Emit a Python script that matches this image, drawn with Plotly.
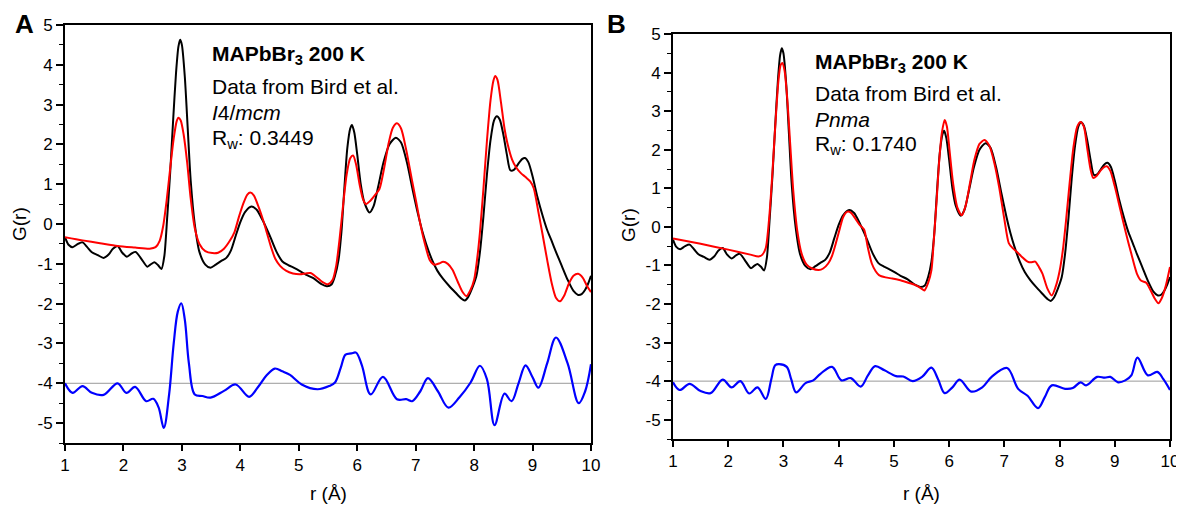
import plotly.graph_objects as go

# ---------------- data ----------------
# observed G(r) (same data in both panels)
obs_r = [1.00, 1.06, 1.13, 1.22, 1.30, 1.38, 1.46, 1.56, 1.66, 1.75, 1.82, 1.90, 1.98, 2.06, 2.14, 2.21,
         2.30, 2.41, 2.47, 2.53, 2.59, 2.65, 2.70, 2.75, 2.80, 2.85, 2.90, 2.94, 2.97, 3.00, 3.05, 3.10,
         3.15, 3.22, 3.30, 3.40, 3.49, 3.58, 3.68, 3.76, 3.84, 3.92, 4.00, 4.08, 4.19, 4.28, 4.38, 4.46,
         4.52, 4.62, 4.72, 4.82, 4.92, 5.02, 5.12, 5.25, 5.38, 5.48, 5.56, 5.62, 5.68, 5.73, 5.78, 5.83,
         5.88, 5.91, 5.95, 6.00, 6.06, 6.12, 6.21, 6.28, 6.36, 6.45, 6.55, 6.66, 6.75, 6.85, 6.95, 7.04,
         7.11, 7.18, 7.28, 7.37, 7.47, 7.57, 7.68, 7.78, 7.84, 7.90, 7.97, 8.04, 8.10, 8.16, 8.22, 8.28,
         8.34, 8.39, 8.44, 8.50, 8.56, 8.62, 8.68, 8.75, 8.82, 8.87, 8.93, 9.00, 9.08, 9.17, 9.25, 9.32,
         9.40, 9.50, 9.60, 9.70, 9.78, 9.84, 9.90, 9.95, 10.00]
obs_g = [-0.33, -0.52, -0.58, -0.50, -0.46, -0.58, -0.71, -0.78, -0.85, -0.76, -0.62, -0.55, -0.72, -0.82, -0.74, -0.70,
         -0.86, -1.07, -1.01, -0.96, -1.03, -1.13, -0.80, 0.20, 1.30, 2.60, 3.80, 4.45, 4.63, 4.50, 3.70, 2.40,
         1.10, 0.00, -0.70, -1.02, -1.10, -1.02, -0.92, -0.85, -0.66, -0.30, 0.05, 0.30, 0.44, 0.36, 0.10, -0.15,
         -0.35, -0.70, -0.94, -1.03, -1.10, -1.18, -1.27, -1.36, -1.50, -1.56, -1.52, -1.30, -0.90, -0.20, 0.90, 1.90,
         2.40, 2.49, 2.30, 1.75, 1.00, 0.55, 0.29, 0.45, 0.95, 1.55, 2.00, 2.17, 2.05, 1.55, 0.85, 0.25,
         -0.16, -0.50, -0.90, -1.17, -1.38, -1.55, -1.72, -1.87, -1.92, -1.83, -1.60, -1.30, -0.70, 0.20, 1.25, 2.10,
         2.60, 2.71, 2.62, 2.25, 1.75, 1.35, 1.36, 1.50, 1.63, 1.66, 1.55, 1.20, 0.70, 0.22, -0.15, -0.40,
         -0.70, -1.05, -1.40, -1.68, -1.78, -1.76, -1.65, -1.50, -1.30]

# calculated G(r), I4/mcm model (panel A)
calcA_r = [1.00, 1.30, 1.60, 1.90, 2.20, 2.45, 2.55, 2.62, 2.68, 2.74, 2.80, 2.86, 2.91, 2.94, 2.98, 3.03,
           3.09, 3.15, 3.22, 3.30, 3.40, 3.52, 3.62, 3.72, 3.82, 3.90, 3.98, 4.06, 4.12, 4.17, 4.23, 4.32,
           4.40, 4.46, 4.53, 4.60, 4.68, 4.78, 4.90, 5.02, 5.12, 5.20, 5.30, 5.40, 5.50, 5.58, 5.64, 5.70,
           5.76, 5.82, 5.88, 5.93, 5.98, 6.04, 6.10, 6.15, 6.22, 6.30, 6.38, 6.46, 6.54, 6.61, 6.68, 6.75,
           6.84, 6.93, 7.01, 7.08, 7.15, 7.24, 7.32, 7.40, 7.47, 7.55, 7.63, 7.72, 7.80, 7.87, 7.94, 8.00,
           8.05, 8.10, 8.16, 8.22, 8.28, 8.33, 8.36, 8.40, 8.46, 8.52, 8.57, 8.65, 8.72, 8.80, 8.88, 8.96,
           9.02, 9.10, 9.17, 9.25, 9.33, 9.40, 9.47, 9.54, 9.62, 9.70, 9.78, 9.86, 9.93, 10.00]
calcA_g = [-0.33, -0.41, -0.48, -0.55, -0.59, -0.62, -0.58, -0.42, -0.05, 0.60, 1.40, 2.15, 2.58, 2.67, 2.60, 2.25,
           1.55, 0.65, -0.10, -0.50, -0.68, -0.73, -0.72, -0.62, -0.42, -0.20, 0.20, 0.55, 0.74, 0.79, 0.72, 0.40,
           0.05, -0.25, -0.60, -0.88, -1.05, -1.17, -1.24, -1.26, -1.24, -1.23, -1.33, -1.45, -1.51, -1.40, -1.05, -0.35,
           0.50, 1.25, 1.65, 1.72, 1.50, 1.00, 0.62, 0.50, 0.58, 0.72, 0.88, 1.40, 2.05, 2.42, 2.53, 2.40,
           1.85, 1.15, 0.55, 0.00, -0.45, -0.90, -1.02, -0.99, -0.95, -1.00, -1.15, -1.45, -1.70, -1.81, -1.65, -1.40,
           -0.90, -0.20, 0.90, 2.10, 3.10, 3.60, 3.72, 3.62, 3.05, 2.40, 2.03, 1.62, 1.42, 1.28, 1.18, 1.07,
           0.90, 0.30, -0.25, -0.90, -1.50, -1.85, -1.94, -1.80, -1.50, -1.30, -1.25, -1.35, -1.55, -1.71]

# difference curve, offset by -4 (panel A)
diffA_r = [1.00, 1.13, 1.30, 1.46, 1.66, 1.90, 2.05, 2.20, 2.39, 2.51, 2.60, 2.69, 2.78, 2.86, 2.93, 2.99,
           3.05, 3.12, 3.22, 3.35, 3.49, 3.72, 3.92, 4.15, 4.30, 4.45, 4.59, 4.72, 4.85, 5.05, 5.32, 5.52,
           5.62, 5.72, 5.80, 5.90, 5.98, 6.08, 6.23, 6.44, 6.68, 6.84, 6.94, 7.08, 7.21, 7.38, 7.56, 7.75,
           7.94, 8.10, 8.22, 8.35, 8.52, 8.64, 8.76, 8.88, 9.00, 9.10, 9.25, 9.40, 9.60, 9.79, 9.90, 10.00]
diffA_g = [-4.00, -4.24, -4.07, -4.24, -4.29, -4.00, -4.24, -4.09, -4.45, -4.39, -4.60, -5.12, -4.30, -3.00, -2.20, -1.99,
           -2.40, -3.50, -4.28, -4.32, -4.36, -4.19, -4.03, -4.34, -4.10, -3.80, -3.63, -3.70, -3.79, -4.03, -4.15, -4.07,
           -3.98, -3.60, -3.28, -3.25, -3.23, -3.55, -4.28, -3.84, -4.40, -4.40, -4.45, -4.20, -3.87, -4.20, -4.61, -4.35,
           -3.98, -3.56, -3.90, -5.05, -4.26, -4.45, -4.00, -3.55, -3.85, -4.11, -3.50, -2.85, -3.50, -4.50, -4.20, -3.52]

# calculated G(r), Pnma model (panel B)
calcB_r = [1.00, 1.50, 2.00, 2.40, 2.55, 2.62, 2.68, 2.74, 2.80, 2.86, 2.91, 2.95, 2.98, 3.02, 3.07, 3.12,
           3.18, 3.25, 3.33, 3.42, 3.52, 3.64, 3.72, 3.81, 3.88, 3.95, 4.02, 4.08, 4.15, 4.22, 4.30, 4.38,
           4.46, 4.53, 4.60, 4.67, 4.73, 4.85, 4.97, 5.10, 5.22, 5.31, 5.42, 5.50, 5.55, 5.62, 5.68, 5.72,
           5.77, 5.82, 5.87, 5.92, 5.96, 6.01, 6.07, 6.15, 6.23, 6.30, 6.38, 6.46, 6.55, 6.64, 6.73, 6.82,
           6.91, 7.00, 7.08, 7.15, 7.22, 7.32, 7.42, 7.48, 7.56, 7.63, 7.69, 7.78, 7.86, 7.93, 8.00, 8.06,
           8.12, 8.18, 8.25, 8.32, 8.38, 8.44, 8.50, 8.56, 8.61, 8.67, 8.75, 8.82, 8.86, 8.92, 9.00, 9.10,
           9.20, 9.30, 9.40, 9.48, 9.57, 9.65, 9.72, 9.79, 9.85, 9.92, 10.00]
calcB_g = [-0.30, -0.44, -0.59, -0.72, -0.77, -0.72, -0.55, 0.20, 1.40, 2.80, 3.80, 4.20, 4.25, 4.05, 3.30, 2.20,
           0.90, -0.10, -0.70, -0.98, -1.08, -1.12, -1.08, -0.95, -0.75, -0.42, -0.05, 0.25, 0.39, 0.37, 0.22, 0.05,
           -0.07, -0.55, -0.95, -1.15, -1.25, -1.31, -1.34, -1.38, -1.43, -1.47, -1.53, -1.60, -1.65, -1.45, -1.12, -0.40,
           0.60, 1.70, 2.45, 2.77, 2.60, 1.95, 1.15, 0.50, 0.30, 0.55, 1.15, 1.75, 2.15, 2.25, 2.10, 1.65,
           1.00, 0.20, -0.42, -0.55, -0.64, -0.78, -0.90, -0.92, -0.90, -1.05, -1.21, -1.60, -1.78, -1.55, -1.15, -0.60,
           0.20, 1.10, 2.05, 2.60, 2.72, 2.60, 2.05, 1.50, 1.27, 1.32, 1.47, 1.56, 1.57, 1.45, 1.05, 0.45,
           -0.15, -0.70, -1.21, -1.40, -1.45, -1.65, -1.85, -1.98, -1.85, -1.55, -1.04]

# difference curve, offset by -4 (panel B)
diffB_r = [1.00, 1.12, 1.30, 1.49, 1.68, 1.90, 2.06, 2.22, 2.38, 2.53, 2.68, 2.78, 2.85, 2.92, 3.06, 3.14,
           3.23, 3.40, 3.54, 3.67, 3.88, 4.05, 4.22, 4.40, 4.53, 4.66, 4.83, 5.04, 5.17, 5.34, 5.51, 5.68,
           5.80, 5.92, 6.06, 6.19, 6.40, 6.60, 6.77, 7.05, 7.25, 7.42, 7.61, 7.73, 7.86, 8.10, 8.24, 8.38,
           8.48, 8.68, 8.82, 8.92, 9.06, 9.19, 9.30, 9.41, 9.60, 9.77, 9.88, 10.00]
diffB_g = [-4.03, -4.23, -4.07, -4.25, -4.31, -3.96, -4.16, -4.00, -4.32, -4.16, -4.46, -3.95, -3.59, -3.56, -3.63, -3.95,
           -4.29, -4.05, -3.98, -3.81, -3.63, -3.98, -3.92, -4.14, -3.85, -3.61, -3.72, -3.87, -3.88, -4.00, -3.89, -3.65,
           -3.95, -4.31, -4.16, -3.96, -4.27, -4.16, -3.89, -3.66, -4.20, -4.38, -4.70, -4.42, -4.11, -4.20, -4.18, -4.03,
           -4.11, -3.89, -3.91, -3.89, -4.03, -3.98, -3.85, -3.39, -3.85, -3.76, -3.95, -4.23]

x_ticks = [1, 2, 3, 4, 5, 6, 7, 8, 9, 10]
y_ticks = [-5, -4, -3, -2, -1, 0, 1, 2, 3, 4, 5]
y_ticktext = ["-5", "-4", "-3", "-2", "-1", "0", "1", "2", "3", "4", "5"]
offset_level = -4

panel_text = {
    "A": ["<b>MAPbBr<sub>3</sub> 200 K</b>", "Data from Bird et al.",
          "<i>I</i>4/<i>mcm</i>", "R<sub>w</sub>: 0.3449"],
    "B": ["<b>MAPbBr<sub>3</sub> 200 K</b>", "Data from Bird et al.",
          "<i>Pnma</i>", "R<sub>w</sub>: 0.1740"],
}

# ---------------- figure ----------------
W, H = 1184, 508
OFF = 8  # page body margin offset
FONT = "Arial, Liberation Sans, sans-serif"

def px(x):
    return (x - OFF) / W

def py(y):
    return 1 - (y - OFF) / H

fig = go.Figure()

line_kw = dict(shape="spline", smoothing=0.7)

for ax_x, ax_y, cr, cg, dr, dg in [
    ("x", "y", calcA_r, calcA_g, diffA_r, diffA_g),
    ("x2", "y2", calcB_r, calcB_g, diffB_r, diffB_g),
]:
    fig.add_trace(go.Scatter(x=obs_r, y=obs_g, mode="lines", xaxis=ax_x, yaxis=ax_y,
                             line=dict(color="black", width=2, **line_kw), showlegend=False))
    fig.add_trace(go.Scatter(x=cr, y=cg, mode="lines", xaxis=ax_x, yaxis=ax_y,
                             line=dict(color="#ff0000", width=2, **line_kw), showlegend=False))
    fig.add_trace(go.Scatter(x=dr, y=dg, mode="lines", xaxis=ax_x, yaxis=ax_y,
                             line=dict(color="#0000ff", width=2.2, shape="spline", smoothing=1.0),
                             showlegend=False))
    fig.add_shape(type="line", xref=ax_x, yref=ax_y, x0=x_ticks[0], x1=x_ticks[-1],
                  y0=offset_level, y1=offset_level, line=dict(color="#999999", width=1), layer="below")

def xaxis_cfg(domain):
    return dict(domain=domain, range=[1, 10], tickvals=x_ticks, ticks="outside", ticklen=6,
                tickwidth=1.5, tickcolor="black", showline=True, linecolor="black", linewidth=2,
                mirror=True, showgrid=False, zeroline=False, automargin=False,
                tickfont=dict(family=FONT, size=17, color="black"))

def yaxis_cfg(domain, anchor):
    return dict(domain=domain, range=[-5.5, 5], tickvals=y_ticks, ticktext=y_ticktext,
                ticks="outside", ticklen=7,
                tickwidth=1.5, tickcolor="black", showline=True, linecolor="black", linewidth=2,
                mirror=True, showgrid=False, zeroline=False, anchor=anchor, automargin=False,
                minor=dict(dtick=0.5, tick0=0, ticks="outside", ticklen=4, tickwidth=1.2,
                           tickcolor="black", showgrid=False),
                tickfont=dict(family=FONT, size=17, color="black"))

fig.update_layout(
    width=W, height=H,
    margin=dict(l=0, r=0, t=0, b=0, autoexpand=False),
    paper_bgcolor="white", plot_bgcolor="white",
    font=dict(family=FONT, color="black"),
    xaxis=xaxis_cfg([px(65), px(591)]) | dict(anchor="y"),
    yaxis=yaxis_cfg([py(443), py(25)], "x"),
    xaxis2=xaxis_cfg([px(673), px(1170)]) | dict(anchor="y2"),
    yaxis2=yaxis_cfg([py(439), py(34)], "x2"),
)

annotations = []
# panel letters
for letter, cx in [("A", 24), ("B", 616)]:
    annotations.append(dict(text=f"<b>{letter}</b>", x=px(cx), y=py(24), xref="paper", yref="paper",
                            xanchor="center", yanchor="middle", showarrow=False,
                            font=dict(size=26, family=FONT, color="black")))
# axis titles
for cx, cy in [(19, 224), (628, 225)]:
    annotations.append(dict(text="G(r)", x=px(cx), y=py(cy), xref="paper", yref="paper",
                            xanchor="center", yanchor="middle",
                            textangle=-90, showarrow=False, font=dict(size=19, family=FONT, color="black")))
for cx in [(65 + 591) / 2, (673 + 1170) / 2]:
    annotations.append(dict(text="r (Å)", x=px(cx), y=py(493), xref="paper", yref="paper",
                            xanchor="center", yanchor="middle",
                            showarrow=False, font=dict(size=19, family=FONT, color="black")))
# panel text blocks
for key, left, ys in [("A", 210, [55, 87, 113, 139]), ("B", 813, [63, 93, 119, 145])]:
    for txt, yy in zip(panel_text[key], ys):
        annotations.append(dict(text=txt, x=px(left), y=py(yy), xref="paper", yref="paper",
                                xanchor="left", yanchor="middle", showarrow=False,
                                font=dict(size=21, family=FONT, color="black")))

fig.update_layout(annotations=annotations)

fig.write_html("out.html")
